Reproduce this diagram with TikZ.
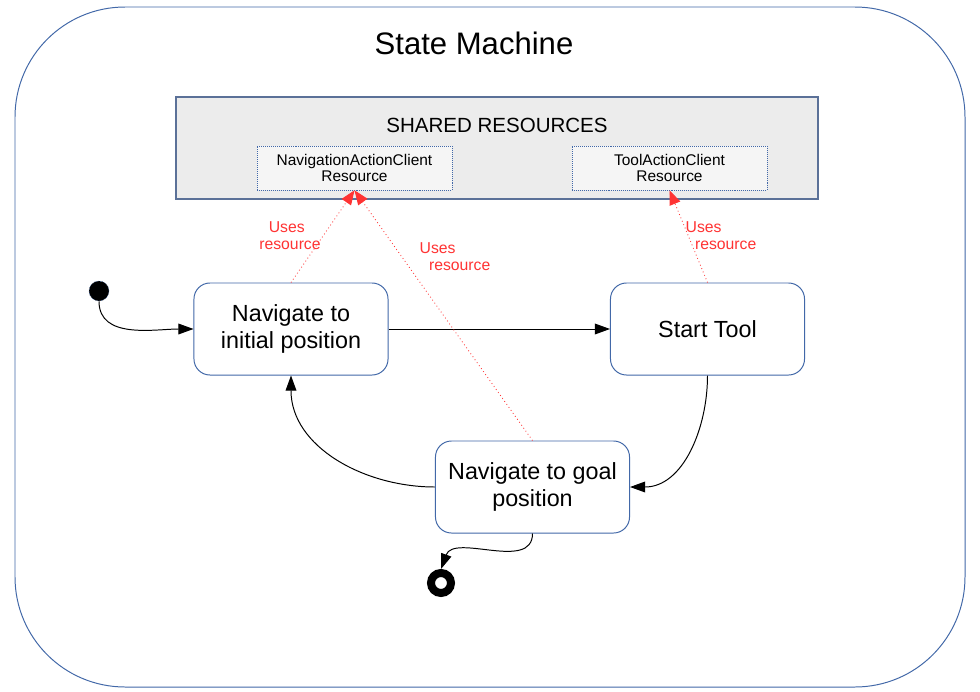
\documentclass[tikz,border=0pt]{standalone}
\usepackage{fontspec}
\setmainfont{Liberation Sans}
\usetikzlibrary{arrows.meta}
\definecolor{frame}{RGB}{66,104,168}
\definecolor{shared}{RGB}{236,236,236}
\definecolor{res}{RGB}{245,245,245}
\definecolor{uses}{RGB}{255,51,51}
\tikzset{>=stealth,
  state/.style={draw=frame, fill=white, rounded corners=0.4cm, line width=0.7pt,
    minimum width=4.85cm, minimum height=2.3cm, align=center,
    font=\fontsize{16.6}{18.6}\selectfont},
  resource/.style={draw=frame, densely dotted, fill=res, minimum width=4.87cm,
    minimum height=1.1cm, align=center, font=\fontsize{11}{12}\selectfont},
  flow/.style={-{Triangle[length=0.38cm,width=0.27cm]}, line width=0.7pt},
  usage/.style={draw=uses, dotted, line width=0.6pt, -{Triangle[length=0.36cm,width=0.28cm]}, uses},
  uselabel/.style={text=uses, align=left, font=\fontsize{11.2}{12.2}\selectfont}}

\begin{document}
\begin{tikzpicture}[x=0.025cm, y=-0.025cm]
\useasboundingbox (0,0) rectangle (980,691);
\draw[frame, line width=0.7pt, fill=white, rounded corners=2.75cm] (15,7) rectangle (965,687);
\node[font=\fontsize{22.1}{25}\selectfont] (T) at (474,43) {State Machine};
\draw[draw=frame!60!gray, fill=shared, line width=0.8pt] (176,97) rectangle (818,199);
\node[font=\fontsize{14.6}{16}\selectfont] (S) at (497,125) {SHARED RESOURCES};
\node[resource] (NR) at (354.5,168) {NavigationActionClient\\Resource};
\node[resource] (TR) at (669.5,168) {ToolActionClient\\Resource};
\node[circle, fill=black, draw=frame, densely dotted, minimum size=0.5cm, inner sep=0pt] (I) at (99,291) {};
\node[state] (N) at (291,329) {Navigate to\\initial position};
\node[state] (ST) at (707.5,329) {Start Tool};
\node[state] (G) at (532.5,487) {Navigate to goal\\position};
\node[circle, draw=black, line width=0.2cm, fill=white, minimum size=0.5cm, inner sep=0pt] (F) at (441,583) {};
\draw[flow] (I.south) to[out=-90, in=180] (N.west);
\draw[flow] (N.east) -- (ST.west);
\draw[flow] (ST.south) to[out=-90, in=0] (G.east);
\draw[flow] (G.west) to[out=180, in=-90] (N.south);
\draw[flow] (G.south) to[out=-90, in=70] (F.north);
\draw[usage] (N.north) -- (NR.south);
\draw[usage] (G.north) -- (NR.south);
\draw[usage] (ST.north) -- (TR.south);
\node[uselabel] (U1) at (290,236) {\hspace*{0.6em}Uses\\resource};
\node[uselabel] (U2) at (455,257) {Uses\\\hspace*{0.6em}resource};
\node[uselabel] (U3) at (721,236) {Uses\\\hspace*{0.6em}resource};
\end{tikzpicture}
\end{document}
